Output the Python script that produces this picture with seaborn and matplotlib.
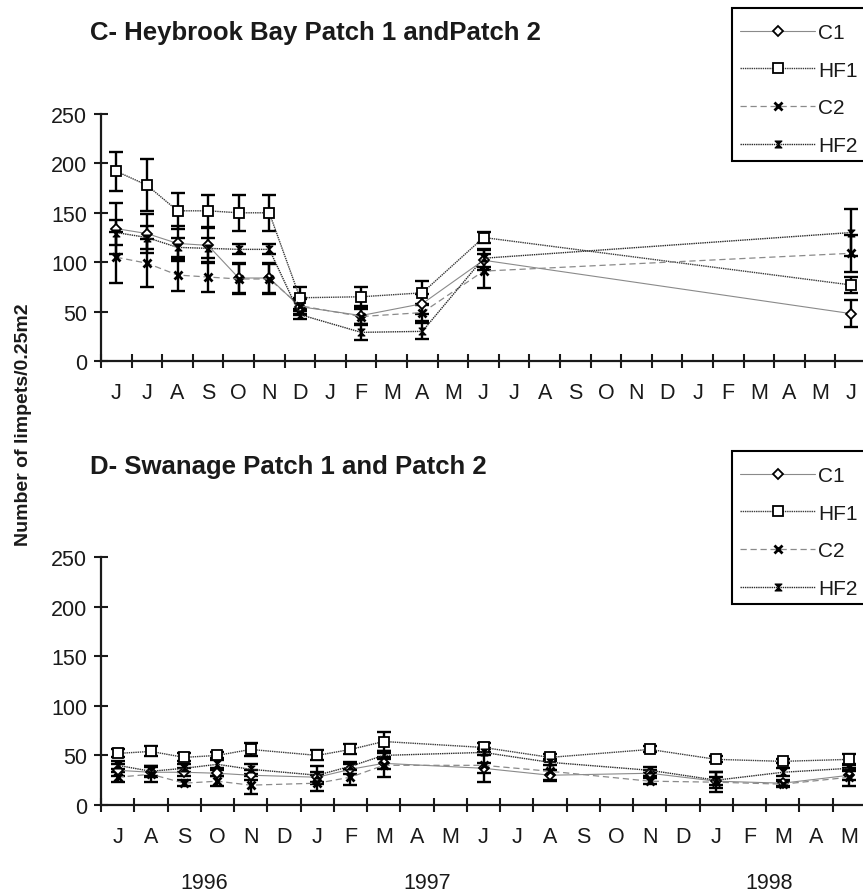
import numpy as np
import pandas as pd
import matplotlib
matplotlib.use("Agg")
import matplotlib.pyplot as plt
import matplotlib.transforms as mtransforms
from matplotlib.path import Path
from matplotlib.patches import Rectangle
import seaborn as sns

# ---------------- data ----------------
series_names = ["C1", "HF1", "C2", "HF2"]

# Panel C: Heybrook Bay, months from June 1996 to June 1998
months_c = ["J", "J", "A", "S", "O", "N", "D", "J", "F", "M", "A", "M", "J",
            "J", "A", "S", "O", "N", "D", "J", "F", "M", "A", "M", "J"]
x_c = [0, 1, 2, 3, 4, 5, 6, 8, 10, 12, 24]
c_C1 = [134, 129, 119, 117, 84, 84, 55, 46, 58, 102, 48]
c_HF1 = [192, 178, 152, 152, 150, 150, 64, 65, 69, 125, 77]
c_C2 = [105, 99, 87, 85, 83, 83, 56, 45, 49, 91, 109]
c_HF2 = [130, 125, 115, 114, 113, 113, 47, 29, 30, 104, 130]
se_c_C1 = [26, 20, 18, 18, 15, 15, 8, 10, 10, 10, 14]
se_c_HF1 = [20, 26, 18, 16, 18, 18, 11, 10, 12, 6, 8]
se_c_C2 = [26, 24, 16, 15, 15, 15, 8, 8, 9, 17, 19]
se_c_HF2 = [13, 12, 10, 10, 5, 5, 4, 8, 8, 9, 24]

# Panel D: Swanage, months from July 1996 to May 1998
months_d = ["J", "A", "S", "O", "N", "D", "J", "F", "M", "A", "M", "J",
            "J", "A", "S", "O", "N", "D", "J", "F", "M", "A", "M"]
x_d = [0, 1, 2, 3, 4, 6, 7, 8, 11, 13, 16, 18, 20, 22]
d_C1 = [35, 33, 33, 32, 30, 28, 36, 42, 37, 30, 32, 24, 22, 30]
d_HF1 = [52, 54, 48, 50, 56, 50, 56, 64, 58, 48, 56, 46, 44, 46]
d_C2 = [28, 31, 22, 24, 20, 22, 28, 40, 40, 34, 24, 23, 21, 28]
d_HF2 = [40, 34, 37, 41, 36, 30, 39, 50, 53, 43, 35, 25, 33, 37]
se_d_C1 = [6, 5, 4, 3, 5, 5, 5, 6, 5, 5, 3, 4, 3, 5]
se_d_HF1 = [4, 5, 4, 3, 7, 5, 5, 10, 5, 3, 3, 3, 2, 5]
se_d_C2 = [5, 8, 3, 5, 9, 8, 8, 12, 17, 10, 3, 10, 3, 9]
se_d_HF2 = [4, 5, 4, 4, 5, 9, 4, 4, 3, 3, 3, 8, 4, 3]

years = ["1996", "1997", "1998"]
year_pos = [2.6, 9.3, 19.6]

# ---------------- style ----------------
sns.set_style("ticks")
plt.rcParams["font.family"] = ["Liberation Sans", "DejaVu Sans"]
TXT = "#1a1a1a"

hourglass = Path([(-1, -1), (1, -1), (-1, 1), (1, 1), (-1, -1)],
                 [Path.MOVETO, Path.LINETO, Path.LINETO, Path.LINETO, Path.CLOSEPOLY])

styles = {
    "C1": dict(color="#8a8a8a", linestyle="-", lw=0.8, marker="D", ms=5.5,
               mfc="white", mec="black", mew=1.3),
    "HF1": dict(color="#3a3a3a", linestyle=(0, (1, 0.6)), lw=1.0, marker="s", ms=6.5,
                mfc="white", mec="black", mew=1.3),
    "C2": dict(color="#8a8a8a", linestyle=(0, (5, 3)), lw=0.9, marker="x", ms=5.5,
               mfc="black", mec="black", mew=2.0),
    "HF2": dict(color="#2a2a2a", linestyle=(0, (1, 0.6)), lw=1.0, marker=hourglass, ms=5,
                mfc="black", mec="black", mew=0.8),
}

W, H = 863, 895
fig = plt.figure(figsize=(W / 100, H / 100), dpi=100)


def rect(x0, x1, ytop, ybot):
    return [x0 / W, 1 - ybot / H, (x1 - x0) / W, (ybot - ytop) / H]


ax_c = fig.add_axes(rect(101, 866, 115, 362))
ax_d = fig.add_axes(rect(101, 866, 558, 806))


def draw_panel(ax, xs, values, errors, month_labels, box_top, box_bottom):
    frames = []
    for name, v in zip(series_names, values):
        frames.append(pd.DataFrame({"month": xs, "count": v, "site": name}))
    df = pd.concat(frames, ignore_index=True)

    # error bars first, markers drawn over them
    for name, v, e in zip(series_names, values, errors):
        ax.errorbar(xs, v, yerr=e, fmt="none", ecolor="black", elinewidth=1.7,
                    capsize=4.8, capthick=1.7, zorder=2)
    for name in series_names:
        st = styles[name]
        sub = df[df["site"] == name]
        sns.lineplot(data=sub, x="month", y="count", ax=ax, label=name,
                     color=st["color"], linestyle=st["linestyle"], linewidth=st["lw"],
                     marker=st["marker"], markersize=st["ms"],
                     markerfacecolor=st["mfc"], markeredgecolor=st["mec"],
                     markeredgewidth=st["mew"], zorder=3)

    n = len(month_labels)
    ax.set_xlim(-0.5, n - 0.5)
    ax.set_ylim(0, 250)
    ax.set_yticks(np.arange(0, 251, 50))
    ax.set_xticks(np.arange(-0.5, n, 1.0))
    ax.set_xticks(np.arange(n), minor=True)
    ax.set_xticklabels(month_labels, minor=True)
    ax.tick_params(axis="x", which="major", direction="inout", length=10, width=1.5,
                   labelbottom=False, color="#1a1a1a")
    ax.tick_params(axis="x", which="minor", length=0, labelsize=15.5, pad=15,
                   labelcolor=TXT)
    ax.tick_params(axis="y", direction="inout", length=10, width=1.5, labelsize=15.5,
                   pad=5, labelcolor=TXT, color="#1a1a1a")
    ax.set_xlabel("")
    ax.set_ylabel("")
    sns.despine(ax=ax)
    for sp in ("left", "bottom"):
        ax.spines[sp].set_linewidth(1.6)
        ax.spines[sp].set_color("#1a1a1a")
    ax.patch.set_alpha(0)

    # legend box runs past the right edge of the figure; drawn beneath the axes
    fig.patches.append(Rectangle((732 / W, 1 - box_bottom / H), (875 - 732) / W,
                                 (box_bottom - box_top) / H, transform=fig.transFigure,
                                 facecolor="white", edgecolor="black", linewidth=1.5,
                                 zorder=-1))
    handles, labels = ax.get_legend_handles_labels()
    leg = ax.legend(handles, labels, loc="upper left",
                    bbox_to_anchor=(732 / W, 1 - (box_top + 6.5) / H),
                    bbox_transform=fig.transFigure, borderaxespad=0,
                    frameon=False, fontsize=15, handlelength=3.6, handletextpad=0.15,
                    labelspacing=0.9, borderpad=0.4)
    for t in leg.get_texts():
        t.set_color(TXT)


draw_panel(ax_c, x_c, [c_C1, c_HF1, c_C2, c_HF2],
           [se_c_C1, se_c_HF1, se_c_C2, se_c_HF2], months_c, 9, 162)
draw_panel(ax_d, x_d, [d_C1, d_HF1, d_C2, d_HF2],
           [se_d_C1, se_d_HF1, se_d_C2, se_d_HF2], months_d, 452, 605)

fig.text(90 / W, 1 - 33 / H, "C- Heybrook Bay Patch 1 andPatch 2", fontsize=18.5,
         fontweight="bold", ha="left", va="center", color=TXT)
fig.text(90 / W, 1 - 467 / H, "D- Swanage Patch 1 and Patch 2", fontsize=18.5,
         fontweight="bold", ha="left", va="center", color=TXT)
fig.text(24 / W, 1 - 425 / H, "Number of limpets/0.25m2", fontsize=14,
         fontweight="bold", rotation=90, ha="center", va="center", color=TXT)

blend = mtransforms.blended_transform_factory(ax_d.transData, fig.transFigure)
for yr, xp in zip(years, year_pos):
    ax_d.text(xp, 1 - 884 / H, yr, transform=blend, fontsize=15.5, ha="center",
              va="center", color=TXT)

fig.savefig("out.png", dpi=100)
